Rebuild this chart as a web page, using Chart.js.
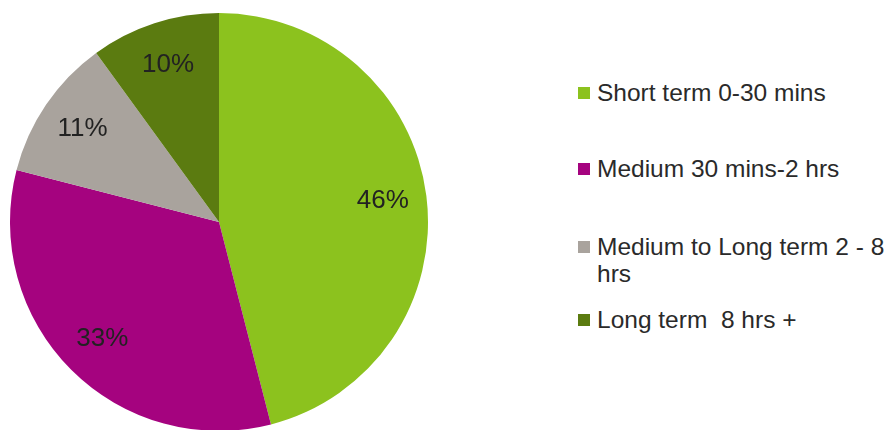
<!DOCTYPE html>
<html>
<head>
<meta charset="utf-8">
<title>Parking duration</title>
<script src="https://cdn.jsdelivr.net/npm/chart.js@4/dist/chart.umd.min.js"></script>
<style>
    html, body { margin: 0; padding: 0; background: #fff; overflow: hidden; }
    body { width: 888px; height: 430px; position: relative; font-family: "Liberation Sans", Arial, sans-serif; }
    #pieWrap { position: absolute; left: 0; top: 0; width: 438px; height: 444px; }
    #legend { position: absolute; left: 0; top: 0; }
    .lg-item { position: absolute; left: 578px; }
    .lg-box { position: absolute; left: 0; top: 8px; width: 12px; height: 12px; }
    .lg-text { position: absolute; left: 19px; top: 0; width: 291px; font-size: 24.5px; line-height: 27px; color: #2a2a2a; white-space: pre-wrap; }
</style>
</head>
<body>
<div id="pieWrap"><canvas id="durationPie"></canvas></div>
<div id="legend"></div>

<script>
// ─── Data ────────────────────────────────────────────────────────────────
const categories = ['Short term 0-30 mins', 'Medium 30 mins-2 hrs', 'Medium to Long term 2 - 8 hrs', 'Long term  8 hrs +'];
const shares     = [46, 33, 11, 10];
const colours    = ['#8cc21e', '#a5037f', '#a9a39d', '#5b7b10'];

// legend row tops (px)
const legendTops = [79, 155, 233, 306];

// ─── Percentage labels inside the slices ─────────────────────────────────
const sliceLabels = {
    id: 'sliceLabels',
    afterDatasetsDraw(chart) {
        const ctx = chart.ctx;
        const meta = chart.getDatasetMeta(0);
        ctx.save();
        ctx.font = '26px "Liberation Sans", Arial, sans-serif';
        ctx.fillStyle = '#222';
        ctx.textAlign = 'center';
        ctx.textBaseline = 'middle';
        meta.data.forEach(function (arc, i) {
            const p = arc.getProps(['x', 'y', 'startAngle', 'endAngle', 'outerRadius'], true);
            const mid = (p.startAngle + p.endAngle) / 2;
            const r = p.outerRadius * 0.79;
            ctx.fillText(shares[i] + '%', p.x + Math.cos(mid) * r, p.y + Math.sin(mid) * r);
        });
        ctx.restore();
    }
};

new Chart(document.getElementById('durationPie'), {
    type: 'pie',
    data: {
        labels: categories,
        datasets: [{
            data: shares,
            backgroundColor: colours,
            borderWidth: 0,
        }]
    },
    options: {
        responsive: true,
        maintainAspectRatio: false,
        animation: false,
        radius: 209,
        layout: { padding: 0 },
        plugins: {
            legend: { display: false },
            tooltip: { enabled: false }
        }
    },
    plugins: [sliceLabels]
});

// ─── HTML legend on the right ────────────────────────────────────────────
const legendEl = document.getElementById('legend');
categories.forEach(function (name, i) {
    const item = document.createElement('div');
    item.className = 'lg-item';
    item.style.top = legendTops[i] + 'px';

    const box = document.createElement('span');
    box.className = 'lg-box';
    box.style.background = colours[i];

    const txt = document.createElement('span');
    txt.className = 'lg-text';
    txt.textContent = name;

    item.appendChild(box);
    item.appendChild(txt);
    legendEl.appendChild(item);
});
</script>
</body>
</html>
